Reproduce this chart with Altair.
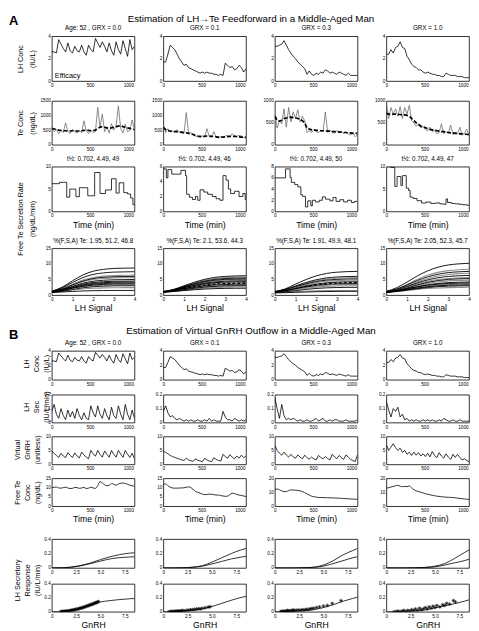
import altair as alt
import pandas as pd

# ---------------- data ----------------
T = [0, 30, 60, 90, 120, 150, 180, 210, 240, 270, 300, 330, 360, 390, 420, 450, 480, 510, 540,
     570, 600, 630, 660, 690, 720, 750, 780, 810, 840, 870, 900, 930, 960, 990, 1020, 1050, 1080]

GRX_TITLES = ["Age: 52 , GRX = 0.0", "GRX = 0.1", "GRX = 0.3", "GRX = 1.0"]
HALF_TITLES = ["t\u00bd: 0.702, 4.49, 49", "t\u00bd: 0.702, 4.49, 46",
               "t\u00bd: 0.702, 4.49, 50", "t\u00bd: 0.702, 4.49, 47"]
FSA_TITLES = ["%(F,S,A) Te: 1.95, 51.2, 46.8", "%(F,S,A) Te: 2.1, 53.6, 44.3",
              "%(F,S,A) Te: 1.91, 49.9, 48.1", "%(F,S,A) Te: 2.05, 52.3, 45.7"]

LH_0 = [2.6, 2.6, 2.5, 3.7, 3.3, 2.9, 2.6, 3.4, 2.7, 2.5, 3.1, 2.7, 2.6, 3.2, 2.6, 2.3, 3.2, 2.8, 2.6,
        3.8, 3.4, 3.0, 3.5, 3.1, 2.6, 3.4, 2.7, 2.3, 3.5, 2.8, 2.4, 3.6, 2.9, 2.2, 3.7, 2.8, 3.1]
LH_1 = [1.7, 1.7, 2.4, 3.2, 3.0, 2.8, 2.4, 2.0, 1.7, 1.4, 1.5, 1.2, 1.1, 1.0, 0.9, 0.8, 0.7, 0.8, 0.7,
        0.8, 0.7, 0.7, 0.6, 0.6, 0.5, 0.6, 0.5, 1.6, 1.4, 1.2, 1.3, 1.0, 1.1, 1.4, 1.2, 0.8, 1.1]
LH_3 = [3.1, 3.1, 3.2, 3.3, 3.6, 3.2, 2.8, 2.5, 2.2, 2.0, 1.7, 1.5, 1.3, 1.1, 0.6, 0.9, 0.6, 0.5, 0.7,
        0.6, 0.8, 0.7, 1.0, 0.9, 0.7, 0.8, 0.7, 0.6, 0.8, 0.7, 0.6, 0.5, 0.7, 0.5, 0.5, 0.5, 0.5]
LH_10 = [2.4, 2.4, 2.8, 2.5, 3.0, 3.1, 3.5, 3.0, 2.9, 2.2, 1.9, 1.5, 1.3, 1.2, 1.0, 1.0, 0.8, 0.7, 0.8,
         0.7, 0.6, 0.6, 0.5, 0.5, 0.4, 0.4, 0.7, 0.6, 0.5, 0.5, 0.5, 0.4, 0.4, 0.4, 0.3, 0.3, 0.3]

TE_OBS_0 = [550, 450, 520, 380, 500, 420, 750, 450, 380, 520, 450, 400, 480, 420, 820, 480, 380, 500, 420,
            450, 1280, 600, 1050, 450, 600, 400, 720, 500, 650, 1330, 550, 400, 700, 450, 500, 850, 500]
TE_FIT_0 = [560, 540, 520, 500, 490, 480, 480, 470, 470, 480, 480, 470, 470, 480, 490, 500, 490, 480, 490,
            500, 560, 600, 620, 600, 580, 570, 580, 600, 620, 640, 650, 620, 600, 580, 560, 540, 520]
TE_OBS_1 = [680, 420, 550, 430, 470, 440, 520, 420, 400, 380, 1100, 380, 420, 350, 300, 280, 250, 300, 270,
            550, 280, 250, 450, 260, 230, 280, 240, 300, 320, 270, 380, 300, 280, 320, 300, 250, 270]
TE_FIT_1 = [600, 520, 480, 470, 460, 450, 450, 440, 430, 420, 410, 390, 370, 350, 320, 300, 290, 290, 290,
            300, 300, 290, 280, 270, 260, 260, 260, 270, 280, 290, 290, 290, 280, 270, 260, 260, 250]
TE_OBS_3 = [700, 380, 550, 480, 820, 400, 850, 520, 750, 600, 800, 520, 650, 550, 280, 320, 280, 350, 300,
            280, 320, 300, 750, 280, 330, 300, 260, 330, 280, 300, 260, 290, 250, 220, 280, 180, 230]
TE_FIT_3 = [650, 560, 540, 560, 600, 610, 620, 630, 620, 610, 600, 580, 550, 500, 380, 360, 340, 340, 330,
            330, 320, 320, 320, 310, 310, 300, 300, 300, 290, 290, 280, 280, 270, 270, 260, 260, 260]
TE_OBS_10 = [950, 600, 850, 700, 820, 650, 870, 600, 850, 700, 900, 550, 500, 420, 480, 380, 420, 350, 320,
             400, 300, 330, 250, 280, 480, 250, 300, 260, 450, 230, 280, 250, 400, 220, 260, 350, 220]
TE_FIT_10 = [720, 700, 690, 700, 700, 690, 690, 680, 680, 670, 650, 600, 550, 500, 460, 430, 410, 390, 370,
             350, 340, 330, 320, 310, 300, 300, 290, 280, 270, 270, 260, 260, 250, 250, 240, 240, 230]

SR_T_0 = [0, 100, 195, 235, 315, 360, 470, 560, 630, 700, 780, 840, 880, 940, 990, 1030, 1060, 1080]
SR_0 = [6.2, 6.5, 3.2, 5.0, 3.3, 5.3, 3.5, 8.7, 4.0, 4.8, 7.3, 4.1, 6.4, 4.2, 3.9, 3.0, 1.5, 1.5]
SR_T_1 = [0, 40, 60, 110, 230, 290, 305, 340, 380, 420, 450, 480, 530, 580, 640, 690, 740, 780, 820,
          850, 880, 930, 990, 1040, 1070, 1080]
SR_1 = [5.7, 4.5, 5.6, 5.0, 5.5, 4.8, 2.3, 1.9, 1.6, 2.0, 1.5, 2.9, 2.6, 2.3, 2.0, 1.7, 1.5, 4.8, 4.2,
        3.0, 2.4, 2.7, 2.0, 2.4, 1.6, 1.6]
SR_T_3 = [0, 140, 200, 215, 260, 300, 340, 360, 400, 430, 470, 490, 530, 580, 620, 660, 720, 760, 800,
          850, 900, 950, 1000, 1040, 1080]
SR_3 = [6.0, 7.6, 6.1, 5.2, 4.8, 4.4, 3.0, 2.7, 0.8, 1.9, 1.0, 2.0, 1.7, 2.0, 2.6, 2.2, 1.9, 2.5, 1.8,
        2.1, 1.7, 2.0, 1.6, 1.8, 1.8]
SR_T_10 = [0, 60, 110, 140, 190, 210, 260, 290, 310, 350, 400, 460, 520, 580, 640, 700, 750, 780, 800,
           850, 900, 950, 1000, 1050, 1080]
SR_10 = [10.0, 9.8, 5.6, 7.8, 5.8, 8.0, 5.2, 4.7, 3.2, 2.9, 2.4, 1.9, 2.1, 1.8, 1.9, 1.7, 1.6, 2.8, 2.0,
         1.8, 1.7, 1.6, 1.5, 1.4, 1.4]

CURVE_X = [0, 0.5, 1.0, 1.5, 2.0, 2.5, 3.0, 3.5, 4.0]
FSR_0 = [
    [1.2, 2.55, 4.58, 6.45, 7.65, 8.25, 8.55, 8.63, 8.7],
    [1.2, 2.33, 4.04, 5.61, 6.62, 7.12, 7.37, 7.44, 7.5],
    [1.1, 2.05, 3.49, 4.81, 5.66, 6.08, 6.29, 6.35, 6.4],
    [1.0, 1.9, 3.25, 4.5, 5.3, 5.7, 5.9, 5.95, 6.0],
    [1.3, 2.07, 3.24, 4.31, 5.0, 5.34, 5.51, 5.56, 5.6],
    [1.0, 1.72, 2.8, 3.8, 4.44, 4.76, 4.92, 4.96, 5.0],
    [1.2, 1.79, 2.69, 3.51, 4.04, 4.3, 4.43, 4.47, 4.5],
    [0.9, 1.49, 2.39, 3.21, 3.74, 4.0, 4.13, 4.17, 4.2],
    [1.1, 1.6, 2.36, 3.06, 3.51, 3.73, 3.84, 3.87, 3.9],
    [1.0, 1.47, 2.17, 2.82, 3.24, 3.44, 3.55, 3.57, 3.6],
    [1.4, 1.74, 2.26, 2.73, 3.03, 3.19, 3.26, 3.28, 3.3],
    [0.8, 1.2, 1.79, 2.34, 2.69, 2.87, 2.96, 2.98, 3.0],
    [1.0, 1.25, 1.63, 1.98, 2.2, 2.32, 2.37, 2.39, 2.4],
    [0.9, 1.01, 1.17, 1.32, 1.42, 1.46, 1.49, 1.49, 1.5],
]
FSR_0_KIND = ["k", "k", "g", "k", "g", "k", "k", "k", "k", "k", "g", "k", "g", "k"]
FSR_1 = [
    [1.0, 1.78, 2.98, 4.12, 5.06, 5.68, 5.99, 6.15, 6.2],
    [1.2, 1.89, 2.95, 3.96, 4.79, 5.34, 5.62, 5.75, 5.8],
    [0.9, 1.59, 2.65, 3.66, 4.49, 5.04, 5.32, 5.45, 5.5],
    [1.1, 1.72, 2.66, 3.56, 4.3, 4.79, 5.04, 5.16, 5.2],
    [0.8, 1.43, 2.4, 3.32, 4.08, 4.58, 4.83, 4.96, 5.0],
    [1.0, 1.54, 2.37, 3.16, 3.81, 4.24, 4.46, 4.56, 4.6],
    [1.2, 1.67, 2.38, 3.06, 3.62, 3.99, 4.18, 4.27, 4.3],
    [0.9, 1.37, 2.08, 2.76, 3.32, 3.69, 3.88, 3.97, 4.0],
    [1.0, 1.42, 2.06, 2.68, 3.18, 3.52, 3.69, 3.77, 3.8],
    [1.1, 1.46, 2.01, 2.54, 2.97, 3.26, 3.4, 3.48, 3.5],
    [0.8, 1.16, 1.71, 2.24, 2.67, 2.96, 3.1, 3.18, 3.2],
    [1.0, 1.3, 1.76, 2.2, 2.56, 2.8, 2.92, 2.98, 3.0],
    [0.9, 1.16, 1.55, 1.92, 2.23, 2.43, 2.53, 2.58, 2.6],
    [1.0, 1.18, 1.46, 1.72, 1.94, 2.08, 2.15, 2.19, 2.2],
]
FSR_1_KIND = ["k", "g", "k", "k", "g", "k", "k", "g", "d", "k", "g", "k", "g", "k"]
FSR_3 = [
    [1.0, 1.99, 3.51, 4.96, 6.15, 6.94, 7.34, 7.53, 7.6],
    [1.1, 1.84, 2.96, 4.04, 4.92, 5.51, 5.8, 5.95, 6.0],
    [0.9, 1.61, 2.69, 3.72, 4.57, 5.13, 5.41, 5.55, 5.6],
    [1.2, 1.8, 2.72, 3.6, 4.32, 4.8, 5.04, 5.16, 5.2],
    [1.0, 1.57, 2.44, 3.28, 3.96, 4.42, 4.65, 4.76, 4.8],
    [0.8, 1.33, 2.13, 2.9, 3.53, 3.95, 4.16, 4.27, 4.3],
    [1.0, 1.45, 2.14, 2.8, 3.34, 3.7, 3.88, 3.97, 4.0],
    [1.1, 1.49, 2.09, 2.66, 3.13, 3.44, 3.6, 3.67, 3.7],
    [0.9, 1.28, 1.85, 2.4, 2.85, 3.15, 3.3, 3.38, 3.4],
    [1.0, 1.3, 1.76, 2.2, 2.56, 2.8, 2.92, 2.98, 3.0],
    [0.8, 1.06, 1.45, 1.82, 2.13, 2.33, 2.43, 2.48, 2.5],
    [0.9, 0.99, 1.13, 1.26, 1.37, 1.44, 1.48, 1.49, 1.5],
    [0.7, 0.78, 0.89, 1.0, 1.09, 1.15, 1.18, 1.2, 1.2],
]
FSR_3_KIND = ["k", "k", "g", "k", "g", "k", "d", "k", "g", "g", "k", "g", "k"]
FSR_10 = [
    [1.2, 2.37, 4.17, 6.15, 7.77, 8.94, 9.66, 10.02, 10.2],
    [1.0, 1.95, 3.41, 5.02, 6.33, 7.28, 7.86, 8.15, 8.3],
    [1.1, 1.95, 3.25, 4.68, 5.85, 6.69, 7.21, 7.47, 7.6],
    [0.9, 1.69, 2.91, 4.26, 5.35, 6.15, 6.63, 6.88, 7.0],
    [1.0, 1.69, 2.75, 3.92, 4.87, 5.56, 5.98, 6.19, 6.3],
    [1.2, 1.77, 2.65, 3.62, 4.41, 4.98, 5.34, 5.51, 5.6],
    [0.8, 1.39, 2.29, 3.28, 4.09, 4.67, 5.03, 5.21, 5.3],
    [1.0, 1.49, 2.25, 3.09, 3.77, 4.27, 4.57, 4.72, 4.8],
    [0.9, 1.33, 1.99, 2.72, 3.31, 3.74, 4.0, 4.13, 4.2],
    [1.1, 1.46, 2.02, 2.64, 3.14, 3.51, 3.73, 3.84, 3.9],
    [0.8, 1.16, 1.72, 2.34, 2.84, 3.21, 3.43, 3.54, 3.6],
    [1.0, 1.3, 1.76, 2.27, 2.68, 2.98, 3.16, 3.25, 3.3],
    [0.9, 1.17, 1.59, 2.06, 2.43, 2.71, 2.87, 2.96, 3.0],
    [1.0, 1.2, 1.5, 1.83, 2.1, 2.29, 2.41, 2.47, 2.5],
]
FSR_10_KIND = ["k", "g", "k", "g", "k", "g", "k", "g", "k", "k", "g", "k", "k", "g"]

SEC_0 = [0.08, 0.13, 0.06, 0.03, 0.10, 0.05, 0.02, 0.09, 0.04, 0.08, 0.03, 0.10, 0.05, 0.02, 0.07, 0.03,
         0.02, 0.12, 0.07, 0.04, 0.12, 0.06, 0.03, 0.10, 0.05, 0.02, 0.11, 0.05, 0.03, 0.12, 0.06, 0.02,
         0.13, 0.06, 0.02, 0.09, 0.03]
SEC_1 = [0.08, 0.12, 0.07, 0.04, 0.05, 0.03, 0.02, 0.03, 0.02, 0.01, 0.02, 0.01, 0.02, 0.01, 0.01, 0.02,
         0.01, 0.01, 0.02, 0.01, 0.03, 0.01, 0.02, 0.01, 0.01, 0.01, 0.08, 0.04, 0.02, 0.02, 0.01, 0.03,
         0.02, 0.01, 0.02, 0.01, 0.02]
SEC_3 = [0.18, 0.10, 0.03, 0.13, 0.05, 0.02, 0.03, 0.02, 0.03, 0.02, 0.01, 0.02, 0.01, 0.01, 0.02, 0.01,
         0.01, 0.02, 0.03, 0.01, 0.02, 0.03, 0.01, 0.01, 0.02, 0.01, 0.02, 0.02, 0.01, 0.01, 0.01, 0.02,
         0.01, 0.01, 0.01, 0.01, 0.02]
SEC_10 = [0.15, 0.09, 0.04, 0.10, 0.08, 0.11, 0.04, 0.06, 0.02, 0.03, 0.01, 0.02, 0.01, 0.02, 0.01, 0.01,
          0.02, 0.01, 0.02, 0.01, 0.02, 0.01, 0.01, 0.02, 0.01, 0.03, 0.02, 0.01, 0.01, 0.02, 0.01, 0.01,
          0.02, 0.01, 0.01, 0.01, 0.01]

GNRH_0 = [4.8, 4.0, 3.2, 2.5, 4.0, 3.0, 2.4, 4.2, 3.2, 2.5, 4.1, 3.0, 2.3, 4.4, 3.4, 2.6, 2.0, 5.0, 3.8,
          2.9, 5.0, 3.6, 2.6, 4.8, 3.6, 2.6, 5.0, 3.6, 2.6, 5.0, 3.7, 2.5, 5.0, 3.6, 2.5, 4.0, 2.0]
GNRH_1 = [4.8, 4.3, 3.8, 3.2, 2.8, 2.5, 2.2, 1.9, 1.6, 1.4, 2.2, 1.6, 1.3, 1.1, 2.0, 1.5, 1.2, 1.0, 2.2,
          1.6, 1.2, 1.0, 2.4, 1.8, 1.4, 1.2, 3.6, 2.8, 2.2, 3.5, 2.6, 2.0, 3.0, 2.2, 3.3, 2.4, 3.0]
GNRH_3 = [6.8, 5.0, 4.0, 3.3, 4.4, 3.4, 2.6, 3.6, 2.7, 2.2, 3.4, 2.6, 2.0, 3.3, 2.4, 1.9, 2.6, 2.0, 1.6,
          3.2, 2.5, 2.0, 2.8, 2.1, 1.6, 3.6, 2.7, 2.0, 3.2, 2.4, 1.8, 3.4, 2.6, 1.8, 1.4, 1.0, 3.4]
GNRH_10 = [7.0, 5.0, 6.2, 7.4, 6.0, 5.0, 5.8, 4.3, 5.0, 3.6, 4.4, 3.2, 4.4, 3.3, 4.2, 3.0, 3.8, 2.8, 4.0,
           2.7, 4.6, 3.2, 2.4, 4.2, 3.0, 2.2, 3.8, 2.6, 1.8, 3.6, 2.5, 3.6, 2.5, 1.6, 2.0, 1.4, 1.0]

FTE_0 = [10.0, 10.2, 10.3, 9.8, 9.7, 10.0, 10.2, 9.8, 9.5, 9.6, 10.1, 10.0, 9.6, 9.8, 10.1, 9.5, 9.7, 10.2,
         9.8, 9.6, 11.0, 13.2, 12.5, 11.5, 11.0, 11.2, 12.2, 11.8, 11.3, 12.0, 12.3, 12.5, 12.2, 11.8, 11.3,
         11.0, 10.7]
FTE_1 = [11.5, 12.0, 11.0, 10.2, 9.8, 9.7, 9.7, 9.8, 9.8, 9.9, 10.2, 10.4, 10.0, 9.0, 8.0, 7.5, 7.0, 6.5,
         6.2, 6.3, 6.5, 6.4, 6.2, 6.0, 6.0, 5.7, 5.5, 5.3, 5.4, 6.2, 7.0, 6.8, 6.3, 6.0, 5.8, 5.5, 5.2]
FTE_3 = [12.0, 12.3, 11.8, 11.0, 10.4, 10.5, 11.2, 11.7, 11.6, 11.5, 11.3, 11.0, 10.5, 9.8, 8.8, 8.0, 7.2,
         6.8, 6.5, 6.3, 6.2, 6.2, 6.1, 6.1, 6.0, 6.0, 5.9, 5.8, 5.8, 5.6, 5.5, 5.4, 5.3, 5.2, 5.1, 5.0, 5.0]
FTE_10 = [13.0, 13.2, 13.8, 14.2, 14.6, 15.0, 14.3, 14.0, 14.2, 14.0, 14.5, 13.2, 11.8, 11.0, 10.5, 10.0,
          9.5, 9.0, 8.6, 8.2, 7.8, 7.5, 7.2, 7.0, 6.8, 6.6, 6.5, 6.4, 6.3, 6.2, 6.0, 5.8, 5.6, 5.4, 5.2,
          5.0, 4.9]

GX = [0, 1, 2, 3, 4, 5, 6, 7, 8, 8.5]
RESP_HI_0 = [0, 0.002, 0.012, 0.035, 0.07, 0.115, 0.155, 0.185, 0.205, 0.21]
RESP_LO_0 = [0, 0.002, 0.01, 0.03, 0.06, 0.095, 0.125, 0.143, 0.152, 0.155]
RESP_HI_1 = [0, 0, 0.003, 0.01, 0.03, 0.08, 0.14, 0.2, 0.25, 0.27]
RESP_LO_1 = [0, 0, 0.002, 0.008, 0.025, 0.055, 0.09, 0.125, 0.15, 0.16]
RESP_HI_3 = [0, 0, 0, 0.003, 0.01, 0.04, 0.1, 0.18, 0.24, 0.27]
RESP_LO_3 = [0, 0, 0, 0.002, 0.008, 0.025, 0.06, 0.1, 0.14, 0.155]
RESP_HI_10 = [0, 0, 0, 0.002, 0.008, 0.025, 0.06, 0.13, 0.21, 0.25]
RESP_LO_10 = [0, 0, 0, 0.002, 0.005, 0.015, 0.04, 0.07, 0.1, 0.12]

FIT_0 = [0, 0.002, 0.015, 0.05, 0.1, 0.14, 0.16, 0.175, 0.186, 0.19]
FIT_1 = [0, 0.002, 0.008, 0.02, 0.04, 0.075, 0.12, 0.165, 0.205, 0.22]
FIT_3 = [0, 0.001, 0.005, 0.014, 0.03, 0.06, 0.1, 0.15, 0.19, 0.21]
FIT_10 = [0, 0.001, 0.004, 0.012, 0.028, 0.055, 0.085, 0.115, 0.15, 0.17]

PTS_X_0 = [0.9, 1.0, 1.1, 1.2, 1.3, 1.4, 1.5, 1.6, 1.7, 1.8, 1.9, 2.0, 2.1, 2.2, 2.3, 2.4, 2.5, 2.6, 2.7, 2.8,
           2.9, 3.0, 3.1, 3.2, 3.3, 3.4, 3.5, 3.6, 3.7, 3.8, 3.9, 4.0, 4.1, 4.2, 4.3, 4.4, 4.5, 4.6, 4.7, 4.8]
PTS_Y_0 = [0.0, 0.004, 0.002, 0.006, 0.004, 0.008, 0.01, 0.008, 0.014, 0.012, 0.018, 0.02, 0.022, 0.026,
           0.028, 0.032, 0.034, 0.038, 0.042, 0.044, 0.05, 0.052, 0.058, 0.06, 0.066, 0.07, 0.076, 0.08,
           0.086, 0.09, 0.096, 0.1, 0.106, 0.11, 0.116, 0.122, 0.128, 0.132, 0.14, 0.146]
PTS_X_1 = [0.6, 0.7, 0.8, 0.9, 1.0, 1.1, 1.2, 1.3, 1.4, 1.5, 1.6, 1.7, 1.8, 1.9, 2.0, 2.2, 2.4, 2.6, 2.8,
           3.0, 3.2, 3.4, 3.6, 3.8, 4.0, 4.3, 4.6, 4.8]
PTS_Y_1 = [0.0, 0.004, 0.0, 0.006, 0.003, 0.0, 0.008, 0.004, 0.01, 0.008, 0.004, 0.012, 0.01, 0.014, 0.018,
           0.014, 0.02, 0.024, 0.028, 0.03, 0.034, 0.038, 0.044, 0.04, 0.05, 0.058, 0.066, 0.072]
PTS_X_3 = [0.6, 0.7, 0.8, 0.9, 1.0, 1.1, 1.2, 1.3, 1.4, 1.5, 1.7, 1.8, 1.9, 2.0, 2.2, 2.4, 2.6, 2.8, 3.0,
           3.2, 3.4, 3.6, 3.8, 4.0, 4.3, 4.6, 5.0, 5.4, 5.9, 6.8]
PTS_Y_3 = [0.0, 0.008, 0.004, 0.0, 0.01, 0.004, 0.01, 0.018, 0.014, 0.01, 0.02, 0.014, 0.024, 0.02, 0.02,
           0.026, 0.02, 0.03, 0.026, 0.036, 0.032, 0.042, 0.046, 0.052, 0.06, 0.07, 0.082, 0.09, 0.12, 0.16]
PTS_X_10 = [0.8, 1.0, 1.2, 1.4, 1.6, 1.8, 2.0, 2.2, 2.4, 2.6, 2.8, 3.0, 3.2, 3.4, 3.6, 3.8, 4.0, 4.2, 4.4,
            4.6, 4.8, 5.0, 5.2, 5.5, 5.8, 6.0, 6.2, 6.5, 6.9, 7.1]
PTS_Y_10 = [0.0, 0.004, 0.01, 0.0, 0.01, 0.02, 0.004, 0.02, 0.01, 0.03, 0.02, 0.04, 0.02, 0.05, 0.03, 0.04,
            0.06, 0.04, 0.07, 0.05, 0.08, 0.06, 0.09, 0.07, 0.1, 0.09, 0.12, 0.11, 0.16, 0.14]

LH = [LH_0, LH_1, LH_3, LH_10]
TE_OBS = [TE_OBS_0, TE_OBS_1, TE_OBS_3, TE_OBS_10]
TE_FIT = [TE_FIT_0, TE_FIT_1, TE_FIT_3, TE_FIT_10]
SR_T = [SR_T_0, SR_T_1, SR_T_3, SR_T_10]
SR = [SR_0, SR_1, SR_3, SR_10]
FSR = [FSR_0, FSR_1, FSR_3, FSR_10]
FSR_KIND = [FSR_0_KIND, FSR_1_KIND, FSR_3_KIND, FSR_10_KIND]
SEC = [SEC_0, SEC_1, SEC_3, SEC_10]
GNRH = [GNRH_0, GNRH_1, GNRH_3, GNRH_10]
FTE = [FTE_0, FTE_1, FTE_3, FTE_10]
RESP_HI = [RESP_HI_0, RESP_HI_1, RESP_HI_3, RESP_HI_10]
RESP_LO = [RESP_LO_0, RESP_LO_1, RESP_LO_3, RESP_LO_10]
FIT = [FIT_0, FIT_1, FIT_3, FIT_10]
PTS_X = [PTS_X_0, PTS_X_1, PTS_X_3, PTS_X_10]
PTS_Y = [PTS_Y_0, PTS_Y_1, PTS_Y_3, PTS_Y_10]

TE_DOM = [[0, 1500], [0, 1500], [0, 1000], [0, 1000]]
TE_TICKS = [[0, 500, 1000, 1500], [0, 500, 1000, 1500], [0, 500, 1000], [0, 500, 1000]]
SR_DOM = [[0, 10], [0, 6], [0, 8], [0, 10]]
SR_TICKS = [[0, 5, 10], [0, 2, 4, 6], [0, 2, 4, 6, 8], [0, 5, 10]]
FTE_DOM = [[0, 15], [0, 15], [0, 20], [0, 20]]
FTE_TICKS = [[0, 5, 10, 15], [0, 5, 10, 15], [0, 10, 20], [0, 10, 20]]

# ---------------- styling helpers ----------------
FONT = "Liberation Sans"
NARROW = "Liberation Sans Narrow, Liberation Sans"
W = 83
GAP = 29
LBL = 4.7
TIME_DOM = [0, 1080]
TIME_TICKS = [0, 500, 1000]
GN_EXPR = "datum.value == 0 ? '0' : format(datum.value, '.1f')"
ASTER = "M-1,0L1,0M0,-1L0,1M-0.7,-0.7L0.7,0.7M-0.7,0.7L0.7,-0.7"


def axis_kw(vals, fmt, expr=None):
    d = dict(values=vals, format=fmt, grid=False, ticks=False, domain=False,
             labelFlush=False, labelOverlap=False, labelFontSize=LBL,
             labelPadding=1.5, labelFont=FONT, labelColor="black")
    if expr:
        d["labelExpr"] = expr
    return d


def X(dom, vals, fmt="~f", title=None, expr=None):
    d = axis_kw(vals, fmt, expr)
    if title:
        d.update(title=title, titleFont=FONT, titleFontSize=8.7, titleFontWeight="normal",
                 titleColor="black", titlePadding=2.5)
    else:
        d["title"] = None
    return alt.X("x:Q", scale=alt.Scale(domain=dom, nice=False, zero=False), axis=alt.Axis(**d))


def Y(dom, vals, fmt="~f", title=None, tx=0, ty=0, lh=10, fs=7.2):
    d = axis_kw(vals, fmt)
    if title:
        d.update(title=title, titleFont=NARROW, titleFontSize=fs, titleFontWeight="normal",
                 titleColor="black", titleAngle=270, titleAlign="center", titleBaseline="middle",
                 titleX=tx, titleY=ty, titleLineHeight=lh)
    else:
        d["title"] = None
    return alt.Y("y:Q", scale=alt.Scale(domain=dom, nice=False, zero=False), axis=alt.Axis(**d))


def line(xs, ys, x, y, color="black", sw=0.8, dash=None, interp="linear"):
    kw = dict(color=color, strokeWidth=sw, clip=True, interpolate=interp)
    if dash:
        kw["strokeDash"] = dash
    df = pd.DataFrame({"x": xs, "y": ys})
    return alt.Chart(df).mark_line(**kw).encode(x=x, y=y)


def finish(layers, h, title=None):
    props = dict(width=W, height=h)
    if title:
        props["title"] = alt.TitleParams(text=title, fontSize=6.3, font=FONT, fontWeight="normal",
                                         offset=1.5, color="black")
    return alt.layer(*layers).properties(**props)


def spacer(h, texts=()):
    df = pd.DataFrame({"k": [0]})
    layers = [alt.Chart(df).mark_point(opacity=0).encode(x=alt.value(0), y=alt.value(0))]
    for txt, x, y, size, weight, align in texts:
        layers.append(alt.Chart(df).mark_text(text=txt, fontSize=size, fontWeight=weight, align=align,
                                              baseline="alphabetic", font=FONT, color="black")
                      .encode(x=alt.value(x), y=alt.value(y)))
    return alt.layer(*layers).properties(width=W, height=h,
                                         view=alt.ViewBackground(stroke="transparent"))


def spacer_row(h, texts=()):
    return [spacer(h, texts)] + [spacer(h) for _ in range(3)]


cells = []

# ---- Section A ----
cells += spacer_row(23, [("A", -43, 12, 13, "bold", "left"),
                         ("Estimation of LH\u2192Te Feedforward in a Middle-Aged Man", 200, 9, 9.8,
                          "normal", "center")])

h = 45
for c in range(4):
    yk = dict(title=["LH Conc", "(IU/L)"], tx=-31, ty=h / 2, lh=12) if c == 0 else {}
    x = X(TIME_DOM, TIME_TICKS, "d")
    y = Y([0, 4], [0, 2, 4], **yk)
    layers = [line(T, LH[c], x, y)]
    if c == 0:
        layers.append(alt.Chart(pd.DataFrame({"k": [0]})).mark_text(
            text="Efficacy", align="left", baseline="alphabetic", fontSize=7.4, font=FONT,
            color="black").encode(x=alt.value(3), y=alt.value(h - 3)))
    cells.append(finish(layers, h, GRX_TITLES[c]))

cells += spacer_row(20)

h = 44
for c in range(4):
    yk = dict(title=["Te Conc", "(ng/dL)"], tx=-31, ty=h / 2, lh=12) if c == 0 else {}
    x = X(TIME_DOM, TIME_TICKS, "d")
    y = Y(TE_DOM[c], TE_TICKS[c], "d", **yk)
    cells.append(finish([line(T, TE_OBS[c], x, y, color="#6e6e6e", sw=0.8),
                         line(T, TE_FIT[c], x, y, color="black", sw=1.7, dash=[4, 2])], h))

cells += spacer_row(22)

h = 45
for c in range(4):
    yk = dict(title=["Free Te Secretion Rate", "(ng/dL/min)"], tx=-31, ty=52, lh=12) if c == 0 else {}
    x = X(TIME_DOM, TIME_TICKS, "d", title="Time (min)")
    y = Y(SR_DOM[c], SR_TICKS[c], "d", **yk)
    cells.append(finish([line(SR_T[c], SR[c], x, y, interp="step-after")], h, HALF_TITLES[c]))

cells += spacer_row(37)

h = 47
for c in range(4):
    x = X([0, 4], [0, 1, 2, 3, 4], "d", title="LH Signal")
    y = Y([0, 15], [0, 5, 10, 15], "d")
    rows = []
    for i, (curve, kind) in enumerate(zip(FSR[c], FSR_KIND[c])):
        for xv, yv in zip(CURVE_X, curve):
            rows.append({"x": xv, "y": yv, "id": i, "kind": kind})
    df = pd.DataFrame(rows)
    layers = []
    for kind, color, sw, dash in [("g", "#8f8f8f", 1.1, None), ("k", "black", 0.9, None),
                                  ("d", "black", 1.3, [3, 2])]:
        sub = df[df["kind"] == kind]
        if len(sub) == 0:
            continue
        kw = dict(color=color, strokeWidth=sw, clip=True, interpolate="monotone")
        if dash:
            kw["strokeDash"] = dash
        layers.append(alt.Chart(sub).mark_line(**kw).encode(x=x, y=y, detail="id:N"))
    cells.append(finish(layers, h, FSA_TITLES[c]))

# ---- Section B ----
cells += spacer_row(56, [("B", -43, 44, 13, "bold", "left"),
                         ("Estimation of Virtual GnRH Outflow in a Middle-Aged Man", 200, 39, 9.8,
                          "normal", "center")])

h = 29
for c in range(4):
    yk = dict(title=["LH", "Conc", "(IU/L)"], tx=-25, ty=h / 2 - 2) if c == 0 else {}
    x = X(TIME_DOM, TIME_TICKS, "d")
    y = Y([0, 4], [0, 2, 4], **yk)
    cells.append(finish([line(T, LH[c], x, y)], h, GRX_TITLES[c]))

cells += spacer_row(15)

h = 28
for c in range(4):
    yk = dict(title=["LH", "Sec", "(IU/L/min)"], tx=-25, ty=h / 2 - 2) if c == 0 else {}
    x = X(TIME_DOM, TIME_TICKS, "d")
    y = Y([0, 0.2], [0, 0.1, 0.2], **yk)
    cells.append(finish([line(T, SEC[c], x, y)], h))

cells += spacer_row(14)

h = 28
for c in range(4):
    yk = dict(title=["Virtual", "GnRH", "(unitless)"], tx=-34, ty=h / 2 - 1) if c == 0 else {}
    x = X(TIME_DOM, TIME_TICKS, "d")
    y = Y([0, 10], [0, 5, 10], "d", **yk)
    cells.append(finish([line(T, GNRH[c], x, y)], h))

cells += spacer_row(14)

h = 28
for c in range(4):
    yk = dict(title=["Free Te", "Conc", "(ng/dL)"], tx=-34, ty=h / 2) if c == 0 else {}
    x = X(TIME_DOM, TIME_TICKS, "d", title="Time (min)")
    y = Y(FTE_DOM[c], FTE_TICKS[c], "d", **yk)
    cells.append(finish([line(T, FTE[c], x, y, interp="monotone")], h))

cells += spacer_row(33)

h = 29
for c in range(4):
    yk = dict(title=["LH Secretory", "Response", "(IU/L/min)"], tx=-34, ty=41) if c == 0 else {}
    x = X([0, 8.5], [0, 2.5, 5, 7.5], expr=GN_EXPR)
    y = Y([0, 0.4], [0, 0.2, 0.4], **yk)
    cells.append(finish([line(GX, RESP_HI[c], x, y, interp="monotone"),
                         line(GX, RESP_LO[c], x, y, interp="monotone")], h))

cells += spacer_row(16)

h = 28
for c in range(4):
    x = X([0, 8.5], [0, 2.5, 5, 7.5], title="GnRH", expr=GN_EXPR)
    y = Y([0, 0.4], [0, 0.2, 0.4])
    pts = pd.DataFrame({"x": PTS_X[c], "y": PTS_Y[c]})
    cells.append(finish([
        line(GX, FIT[c], x, y, interp="monotone"),
        alt.Chart(pts).mark_point(shape=ASTER, size=14, color="black", strokeWidth=0.6, opacity=1,
                                  clip=True).encode(x=x, y=y),
    ], h))

chart = alt.concat(*cells, columns=4, spacing={"row": 0, "column": GAP}, bounds="flush").properties(
    padding=0
).configure(font=FONT).configure_view(stroke="black", strokeWidth=0.8)

chart.save("out.html", embed_options={"renderer": "svg", "actions": False})
